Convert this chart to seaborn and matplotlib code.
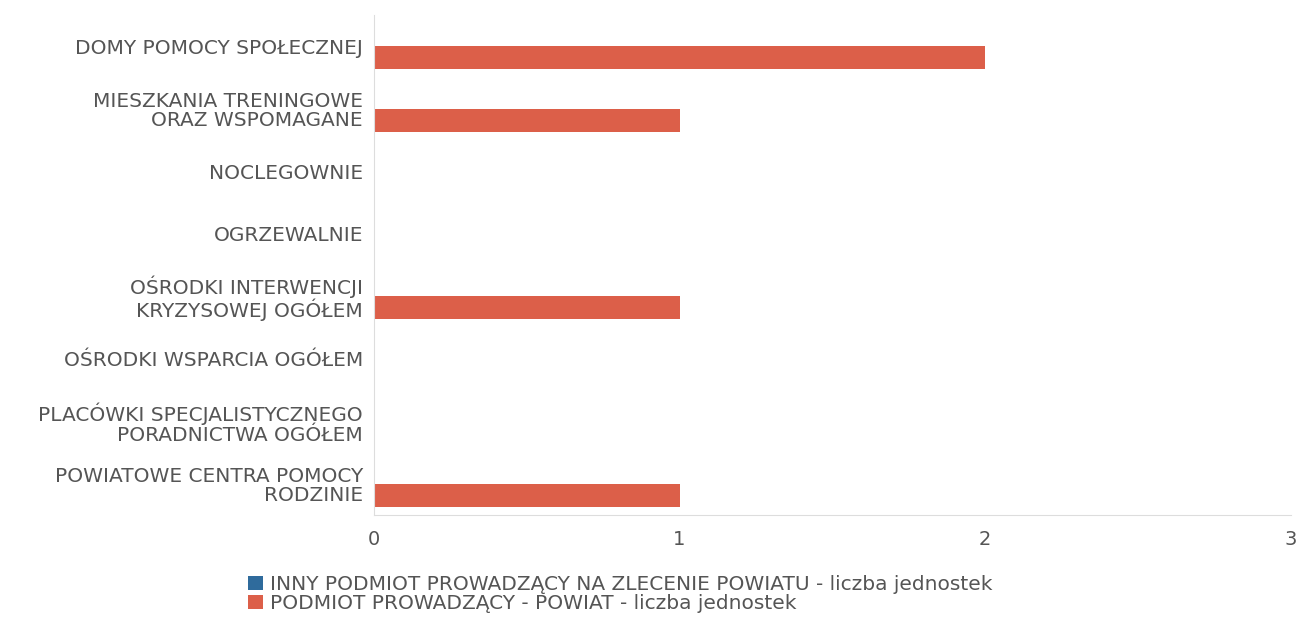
import matplotlib
matplotlib.use('Agg')
import matplotlib.pyplot as plt
from matplotlib.patches import Patch
import pandas as pd
import seaborn as sns

# --- data ---
categories = [
    'DOMY POMOCY SPOŁECZNEJ',
    'MIESZKANIA TRENINGOWE\nORAZ WSPOMAGANE',
    'NOCLEGOWNIE',
    'OGRZEWALNIE',
    'OŚRODKI INTERWENCJI\nKRYZYSOWEJ OGÓŁEM',
    'OŚRODKI WSPARCIA OGÓŁEM',
    'PLACÓWKI SPECJALISTYCZNEGO\nPORADNICTWA OGÓŁEM',
    'POWIATOWE CENTRA POMOCY\nRODZINIE',
]
series_names = [
    'INNY PODMIOT PROWADZĄCY NA ZLECENIE POWIATU - liczba jednostek',
    'PODMIOT PROWADZĄCY - POWIAT - liczba jednostek',
]
inny_values = [0, 0, 0, 0, 0, 0, 0, 0]
powiat_values = [2, 1, 0, 0, 1, 0, 0, 1]
x_ticks = [0, 1, 2, 3]

colors = ['#2f6b9c', '#dc5f49']

df = pd.DataFrame({
    'kategoria': categories * 2,
    'seria': [series_names[0]] * len(categories) + [series_names[1]] * len(categories),
    'wartosc': inny_values + powiat_values,
})

sns.set_style('white')
plt.rcParams['font.family'] = ['DejaVu Sans']

fig = plt.figure(figsize=(13.01, 6.18), dpi=100)
ax = fig.add_axes([0.2875, 0.167, 0.7045, 0.809])

sns.barplot(data=df, y='kategoria', x='wartosc', hue='seria', order=categories,
            hue_order=series_names, palette=colors, orient='h', width=0.74,
            saturation=1, linewidth=0, ax=ax, legend=False)

ax.set_xlim(0, 3)
ax.set_xticks(x_ticks)
ax.set_xticklabels([str(t) for t in x_ticks], fontsize=14, color='#555555')
ax.set_ylabel('')
ax.set_xlabel('')
ax.tick_params(axis='y', labelsize=14.5, labelcolor='#555555', length=0, pad=8)
ax.tick_params(axis='x', length=0, pad=11)
for lbl in ax.get_yticklabels():
    lbl.set_horizontalalignment('right')
    lbl.set_multialignment('right')
    lbl.set_linespacing(1.05)

for side in ['top', 'right']:
    ax.spines[side].set_visible(False)
ax.spines['left'].set_color('#dddddd')
ax.spines['bottom'].set_color('#dddddd')

handles = [Patch(facecolor=c, edgecolor='none') for c in colors]
fig.legend(handles, series_names, loc='upper left', bbox_to_anchor=(0.191, 0.070),
           frameon=False, fontsize=14.5, handlelength=0.7, handleheight=0.7,
           handletextpad=0.35, labelspacing=0.0, borderaxespad=0, borderpad=0,
           labelcolor='#555555')

fig.savefig('out.png', dpi=100)
